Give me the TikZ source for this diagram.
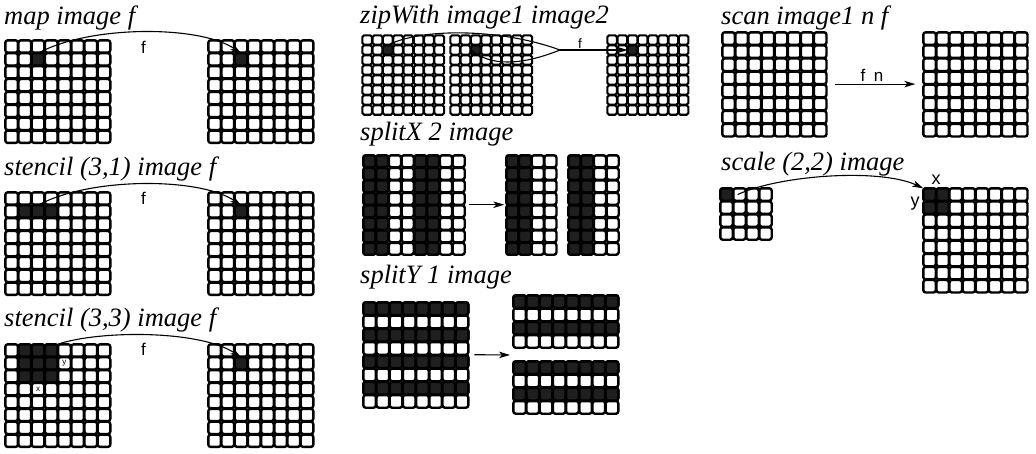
\documentclass[tikz,border=0pt]{standalone}
\usepackage{fontspec}
\setmainfont{Liberation Serif}
\setsansfont{Liberation Sans}
\usetikzlibrary{arrows.meta}
\tikzset{
  cell/.style={draw=black, fill=white, line width=2.4pt, rounded corners=2.4pt, inner sep=0pt, outer sep=0pt, shape=rectangle},
  blk/.style={draw=black, fill=black!88, line width=2.4pt, rounded corners=2.4pt},
  title/.style={font=\fontsize{26.5}{30}\selectfont\itshape, anchor=base west, inner sep=0pt},
  flabel/.style={font=\sffamily\fontsize{17}{18}\selectfont, anchor=base, inner sep=0pt},
  tinylabel/.style={font=\sffamily\fontsize{8}{8}\selectfont, inner sep=0pt},
  biglabel/.style={font=\sffamily\fontsize{18}{18}\selectfont, inner sep=0pt},
  wire/.style={line width=1.1pt},
  conn/.style={line width=1.1pt, -{Stealth[length=11pt,width=6.5pt,inset=3pt]}},
}
% name, x0, y0, cols, rows, xpitch, ypitch
\newcommand\cgrid[7]{%
  \foreach \cc in {1,...,#4}{%
    \foreach \rr in {1,...,#5}{%
      \node[cell, minimum width={(#6)-0.6}, minimum height={(#7)-0.6}] (#1-\cc-\rr) at ({#2+(\cc-0.5)*#6},{#3+(\rr-0.5)*#7}) {};
    }%
  }%
}
\newcommand\blkc[1]{\path[blk] (#1.south west) rectangle (#1.north east);}
\begin{document}
\begin{tikzpicture}[x=1pt,y=-1pt]
\fill[white] (0,0) rectangle (1036,453);
\useasboundingbox (0,0) rectangle (1036,453);

% ---------- titles
\node[title] (tmap) at (4,24) {map image f};
\node[title] (tst1) at (4,175) {stencil (3,1) image f};
\node[title] (tst3) at (4,326) {stencil (3,3) image f};
\node[title] (tzip) at (360,23) {zipWith image1 image2};
\node[title] (tspx) at (360,140) {splitX 2 image};
\node[title] (tspy) at (360,283) {splitY 1 image};
\node[title] (tscan) at (721,24) {scan image1 n f};
\node[title] (tscale) at (721,170) {scale (2,2) image};

% ---------- map
\cgrid{ma}{5}{40}{8}{8}{13.2}{12.9}
\cgrid{mb}{208}{40}{8}{8}{13.2}{12.9}
\blkc{ma-3-2}\blkc{mb-3-2}
\draw[conn] (ma-3-2.north) .. controls (90,25) and (200,25) .. (mb-3-2.north);
\node[flabel] (fmap) at (143.5,53) {f};

% ---------- stencil (3,1)
\cgrid{sa}{5}{192}{8}{8}{13.2}{12.9}
\cgrid{sb}{208}{192}{8}{8}{13.2}{12.9}
\foreach \ci in {2,3,4}{\blkc{sa-\ci-2}}
\blkc{sb-3-2}
\draw[conn] (sa-3-2.north) .. controls (90,177) and (200,177) .. (sb-3-2.north);
\node[flabel] (fst1) at (143.5,204) {f};

% ---------- stencil (3,3)
\cgrid{ta}{5}{344}{8}{8}{13.2}{12.9}
\cgrid{tb}{208}{344}{8}{8}{13.2}{12.9}
\foreach \ci in {2,3,4}{\foreach \ri in {1,2,3}{\blkc{ta-\ci-\ri}}}
\blkc{tb-3-2}
\node[tinylabel] (ty) at (ta-5-2) {y};
\node[tinylabel] (tx) at (ta-3-4) {x};
\draw[conn] (ta-4-1.north east) .. controls (100,330) and (200,330) .. (tb-3-2.north);
\node[flabel] (fst3) at (143.5,355) {f};

% ---------- zipWith
\begin{scope}[cell/.append style={line width=2.1pt, rounded corners=1.7pt}, blk/.append style={line width=2.1pt, rounded corners=1.7pt}]
\cgrid{za}{362}{35}{8}{8}{10.3}{10}
\cgrid{zb}{450}{35}{8}{8}{10.3}{10}
\cgrid{zc}{607}{35}{8}{8}{10.2}{10}
\blkc{za-3-2}\blkc{zb-3-2}\blkc{zc-3-2}
\end{scope}
\coordinate (merge) at (560,50);
\draw[wire] (za-3-2.north) .. controls (420,28) and (500,28) .. (merge);
\draw[wire] (zb-3-2.west) .. controls (490,66) and (520,66) .. (merge);
\draw[conn] (merge) -- (zc-3-2.west);
\node[flabel, font=\sffamily\fontsize{13.5}{14}\selectfont] (fzip) at (580,48.5) {f};

% ---------- splitX
\cgrid{xa}{363}{155}{8}{8}{12.75}{12.5}
\cgrid{xb}{506}{155}{4}{8}{12.7}{12.5}
\cgrid{xc}{568}{155}{4}{8}{12.75}{12.5}
\foreach \ci in {1,2,5,6}{\foreach \ri in {1,...,8}{\blkc{xa-\ci-\ri}}}
\foreach \ci in {1,2}{\foreach \ri in {1,...,8}{\blkc{xb-\ci-\ri}\blkc{xc-\ci-\ri}}}
\draw[conn] ([xshift=4pt]xa-8-4.south east) -- ([xshift=-2pt]xb-1-4.south west);

% ---------- splitY
\cgrid{ya}{363}{302}{8}{8}{13.2}{13.25}
\cgrid{yb}{513}{295}{8}{4}{13.2}{13.25}
\cgrid{yc}{513}{361}{8}{4}{13.2}{13.25}
\foreach \ri in {1,3,5,7}{\foreach \ci in {1,...,8}{\blkc{ya-\ci-\ri}}}
\foreach \ri in {1,3}{\foreach \ci in {1,...,8}{\blkc{yb-\ci-\ri}\blkc{yc-\ci-\ri}}}
\coordinate (ysplit) at (510,355);
\draw[conn] ([xshift=6pt]ya-8-4.south east) -- (ysplit);

% ---------- scan
\cgrid{na}{722}{32}{8}{8}{13.1}{13.1}
\cgrid{nb}{923}{32}{8}{8}{13.1}{13.1}
\draw[conn] ([xshift=8pt]na-8-4.south east) -- ([xshift=-8pt]nb-1-4.south west);
\node[flabel] (fscan) at (872,81.5) {f\hspace{0.5em}n};

% ---------- scale
\cgrid{ca}{720}{188}{4}{4}{13}{13}
\cgrid{cb}{923}{188}{8}{8}{13.1}{13.1}
\blkc{ca-1-1}
\foreach \ci in {1,2}{\foreach \ri in {1,2}{\blkc{cb-\ci-\ri}}}
\draw[conn] ([xshift=5pt]ca-1-1.east) .. controls (780,175) and (880,168) .. (cb-1-1.north west);
\node[biglabel] (sx) at (936,180) {x};
\node[biglabel] (sy) at (915,204) {y};
\end{tikzpicture}
\end{document}
